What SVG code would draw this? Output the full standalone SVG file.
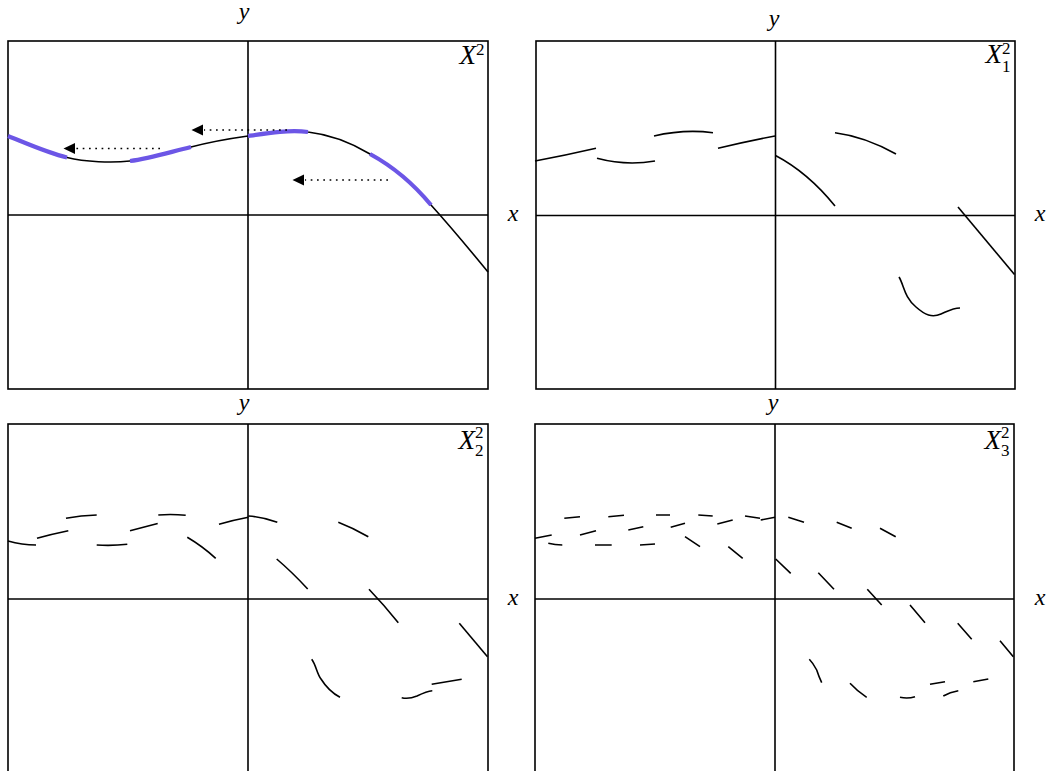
<svg xmlns="http://www.w3.org/2000/svg" width="1050" height="771" viewBox="0 0 1050 771">
<style>
.frame{fill:none;stroke:#000;stroke-width:1.6}
.axis{stroke:#000;stroke-width:1.6}
.crv{fill:none;stroke:#000;stroke-width:1.6}
.hl{fill:none;stroke:#6c56e6;stroke-width:4.2}
.dot{fill:none;stroke:#000;stroke-width:1.7;stroke-dasharray:1.7 4.6}
text{fill:#000;font-family:'Liberation Serif','DejaVu Serif',serif}
.lab{font-style:italic;font-size:24px}
.big{font-style:italic;font-size:27px}
.idx{font-size:17px}
</style>
<defs>
<marker id="ah" markerUnits="userSpaceOnUse" markerWidth="14" markerHeight="12" viewBox="0 0 14 12" refX="0" refY="6" orient="auto" overflow="visible">
<path d="M1,0.5 L12.5,6 L1,11.5 z" fill="#000"/>
</marker>
</defs>
<rect width="1050" height="771" fill="#fff"/>

<g id="panel-X2">
<rect class="frame" x="8" y="41" width="480" height="348"/>
<line class="axis" x1="248" y1="41" x2="248" y2="389"/>
<line class="axis" x1="8" y1="215" x2="488" y2="215"/>
<text class="lab" x="244" y="19" text-anchor="middle">y</text>
<text class="lab" x="513" y="221" text-anchor="middle">x</text>
<text class="big" x="476" y="64" text-anchor="end">X</text>
<text class="idx" x="476" y="55">2</text>
<path class="crv" d="M8,136 C28,144 48,153 67,157.5 C85,162 112,163 130,161 C150,158.5 170,152 191,147 C210,142 230,138.5 248,136 C268,133 290,129.5 308,132 C330,134.5 350,142 370,154 C392,166 412,182 431,205 C450,226 470,250 488,272"/>
<path class="hl" d="M8,136 C28,144 48,153 67,157.5"/>
<path class="hl" d="M130,161 C150,158.5 170,152 191,147"/>
<path class="hl" d="M248,136 C268,133 290,129.5 308,132"/>
<path class="hl" d="M370,154 C392,166 412,182 431,205"/>
</g>

<g id="panel-X12">
<rect class="frame" x="536" y="41" width="479" height="348"/>
<line class="axis" x1="775.5" y1="41" x2="775.5" y2="389"/>
<line class="axis" x1="536" y1="215.5" x2="1015" y2="215.5"/>
<text class="lab" x="774" y="26" text-anchor="middle">y</text>
<text class="lab" x="1040" y="221" text-anchor="middle">x</text>
<text class="big" x="1002" y="63" text-anchor="end">X</text>
<text class="idx" x="1002" y="54">2</text>
<text class="idx" x="1002" y="72">1</text>
<path class="crv" d="M535,161 Q565,155.5 596,148.3"/>
<path class="crv" d="M597,158.3 Q626,166 655,161"/>
<path class="crv" d="M654,136 Q684,129 713,132.7"/>
<path class="crv" d="M718,148.3 Q746,141.5 775,136"/>
<path class="crv" d="M775.5,155.5 Q808,172.6 835,206"/>
<path class="crv" d="M835,132.7 Q865,136.6 896,154"/>
<path class="crv" d="M958,207 L1014.5,274.5"/>
<path class="crv" d="M899,277 C904,285 904,297 916,307 C925,315 932,318 941,314 C948,311 953,308 960,308"/>
</g>

<g id="panel-X22">
<rect class="frame" x="8" y="424" width="480" height="380"/>
<line class="axis" x1="248" y1="424" x2="248" y2="771"/>
<line class="axis" x1="8" y1="599" x2="488" y2="599"/>
<text class="lab" x="244" y="410" text-anchor="middle">y</text>
<text class="lab" x="513" y="605" text-anchor="middle">x</text>
<text class="big" x="475" y="449" text-anchor="end">X</text>
<text class="idx" x="475" y="438">2</text>
<text class="idx" x="475" y="456">2</text>
<path class="crv" d="M8,541 Q22,545 36,545"/>
<path class="crv" d="M37,538.3 Q52,534 68.3,530.7"/>
<path class="crv" d="M66,518.3 Q81,515.5 96.7,515"/>
<path class="crv" d="M96.7,545 Q112,546 127.3,544.3"/>
<path class="crv" d="M130,530.7 Q144,527 157.7,523.5"/>
<path class="crv" d="M158.3,515 Q172,514 185.7,515.3"/>
<path class="crv" d="M187.3,537.3 Q202,546 215.7,558.3"/>
<path class="crv" d="M219,524.3 Q234,520 248.3,517.3"/>
<path class="crv" d="M248.3,516 Q263,517 277.3,522.3"/>
<path class="crv" d="M276.7,559 Q292,572 307.7,589"/>
<path class="crv" d="M338.3,522.3 Q353,528 368.3,536.7"/>
<path class="crv" d="M369,589.3 Q384,605 398.3,622.7"/>
<path class="crv" d="M459.3,623.3 L487.5,656.7"/>
<path class="crv" d="M311.7,659.3 C316,665 317,674 321,679 C326,687 332,693 340,697.3"/>
<path class="crv" d="M401.7,697.7 C407,699 412,698 417,696 C422,693.5 427,691 432.3,690.7"/>
<path class="crv" d="M431.7,684.3 L461.7,679.3"/>
</g>

<g id="panel-X32">
<rect class="frame" x="535" y="424" width="479" height="380"/>
<line class="axis" x1="775" y1="424" x2="775" y2="771"/>
<line class="axis" x1="535" y1="599" x2="1014" y2="599"/>
<text class="lab" x="773" y="410" text-anchor="middle">y</text>
<text class="lab" x="1040" y="605" text-anchor="middle">x</text>
<text class="big" x="1001" y="449" text-anchor="end">X</text>
<text class="idx" x="1001" y="438">2</text>
<text class="idx" x="1001" y="456">3</text>
<path class="crv" d="M535,538.3 L551.7,535 M564.3,518.3 L580,516.7 M608.3,516.7 L624,515.3 M656,515 L670,515 M698.3,515 L712.7,516 M745,516 L760,518.3 M760.7,520 L775,517.3 M788.3,517.3 L804,522.3 M836.7,522.3 L851.7,528.3 M880,528.3 L895.7,536.7"/>
<path class="crv" d="M580,535 L596,530.7 M628.3,530 L643.3,526.7 M670.7,527.3 L685,523.3 M717.3,524 L732.7,520"/>
<path class="crv" d="M548.3,543.3 Q555,545 562.3,545 M595,545 L611.7,545 M640,545 L655,544 M685,536.7 L700,546.7 M728.3,546.7 L742.7,558.3 M775.7,559 L790.7,573.3 M818.3,572.7 L834,589.3 M867.3,589.3 L881.7,605 M910,605 L925,622.7 M957.7,623.3 L971.7,639.3 M1000,640.7 L1013.3,656.7"/>
<path class="crv" d="M809.3,659.3 Q813,663 816.7,670 Q819,677 821.7,682.7 M850,683.3 Q857,691 866.7,697.3 M900,697.3 Q908,699 915,696.7 M930,684.3 L945,681.7 M943.3,696 Q950,692 958.3,690.7 M973.3,681.7 L988.3,679"/>
</g>

<g id="connectors">
<line class="dot" x1="160" y1="148.5" x2="76" y2="148.5" marker-end="url(#ah)"/>
<line class="dot" x1="287" y1="130" x2="204" y2="130" marker-end="url(#ah)"/>
<line class="dot" x1="388" y1="180" x2="305" y2="180" marker-end="url(#ah)"/>
</g>
</svg>
